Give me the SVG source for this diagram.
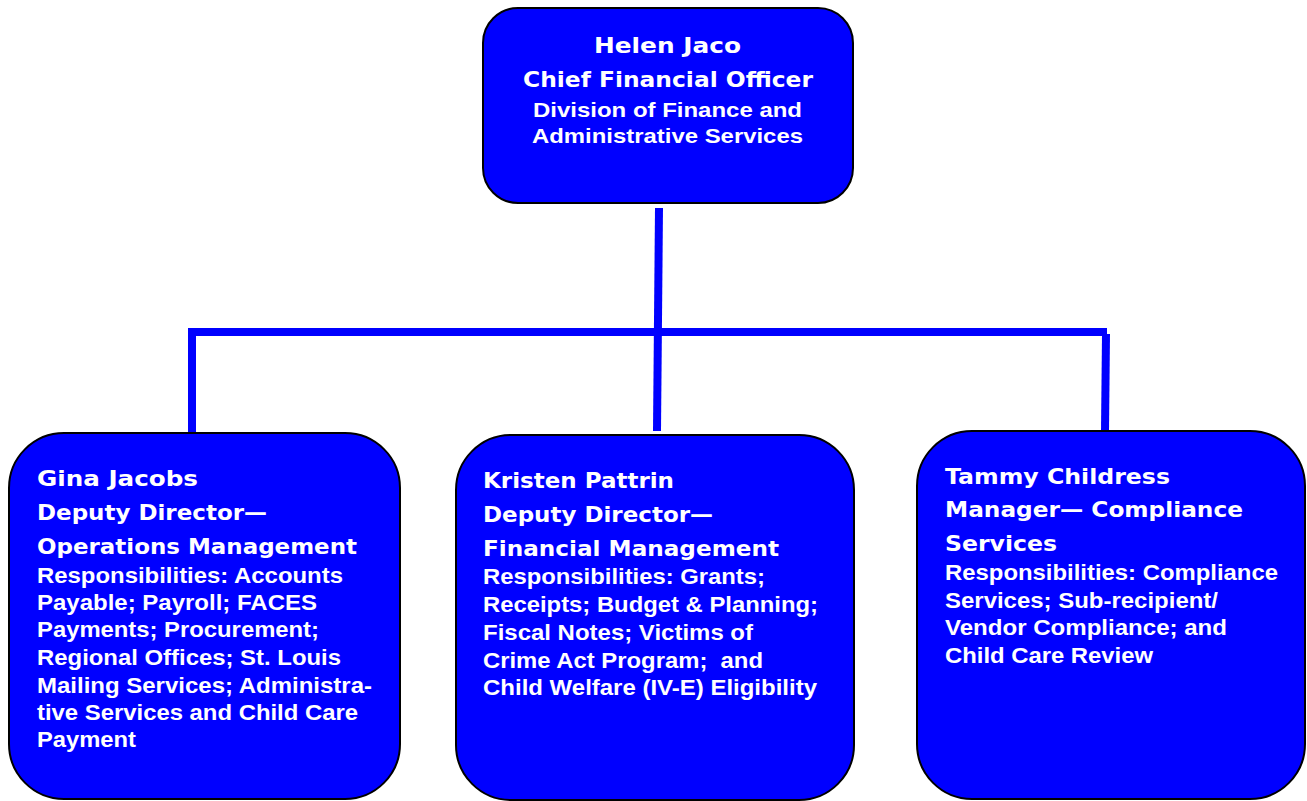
<svg xmlns="http://www.w3.org/2000/svg" width="1307" height="801" viewBox="0 0 1307 801">
<style>
.box{fill:#0000FF;stroke:#000;stroke-width:2}
.conn{fill:none;stroke:#0000FF;stroke-width:8;stroke-linejoin:miter;stroke-linecap:butt}
.h{font-family:"DejaVu Sans","Liberation Sans",Arial,sans-serif;font-weight:bold;font-size:22px;fill:#fff}
.t{font-family:"Liberation Sans",Arial,sans-serif;font-weight:bold;font-size:22px;fill:#fff}
.top{font-size:21px}
</style>
<rect x="0" y="0" width="1307" height="801" fill="#fff"/>
<g id="connectors">
<line class="conn" x1="659" y1="208" x2="657" y2="431"/>
<polyline class="conn" points="192,432 192,332 1107,332"/>
<line class="conn" x1="1106" y1="334" x2="1105" y2="431"/>
</g>
<g id="node-helen">
<rect class="box" x="483" y="8" width="370" height="195" rx="35" ry="35"/>
<text class="h top" x="594" y="53" textLength="147" lengthAdjust="spacingAndGlyphs">Helen Jaco</text>
<text class="h top" x="523" y="87" textLength="290" lengthAdjust="spacingAndGlyphs">Chief Financial Officer</text>
<text class="t top" x="533" y="117" textLength="269" lengthAdjust="spacingAndGlyphs">Division of Finance and</text>
<text class="t top" x="532" y="143" textLength="271" lengthAdjust="spacingAndGlyphs">Administrative Services</text>
</g>
<g id="node-gina">
<rect class="box" x="9" y="433" width="391" height="366" rx="55" ry="55"/>
<text class="h" x="37" y="486" textLength="161" lengthAdjust="spacingAndGlyphs">Gina Jacobs</text>
<text class="h" x="37" y="520" textLength="230" lengthAdjust="spacingAndGlyphs">Deputy Director—</text>
<text class="h" x="37" y="554" textLength="320" lengthAdjust="spacingAndGlyphs">Operations Management</text>
<text class="t" x="37" y="583" textLength="306" lengthAdjust="spacingAndGlyphs">Responsibilities: Accounts</text>
<text class="t" x="37" y="610" textLength="280" lengthAdjust="spacingAndGlyphs">Payable; Payroll; FACES</text>
<text class="t" x="37" y="637" textLength="282" lengthAdjust="spacingAndGlyphs">Payments; Procurement;</text>
<text class="t" x="37" y="665" textLength="304" lengthAdjust="spacingAndGlyphs">Regional Offices; St. Louis</text>
<text class="t" x="37" y="693" textLength="335" lengthAdjust="spacingAndGlyphs">Mailing Services; Administra-</text>
<text class="t" x="37" y="720" textLength="321" lengthAdjust="spacingAndGlyphs">tive Services and Child Care</text>
<text class="t" x="37" y="747" textLength="99" lengthAdjust="spacingAndGlyphs">Payment</text>
</g>
<g id="node-kristen">
<rect class="box" x="456" y="435" width="398" height="365" rx="55" ry="55"/>
<text class="h" x="483" y="488" textLength="191" lengthAdjust="spacingAndGlyphs">Kristen Pattrin</text>
<text class="h" x="483" y="522" textLength="230" lengthAdjust="spacingAndGlyphs">Deputy Director—</text>
<text class="h" x="483" y="556" textLength="296" lengthAdjust="spacingAndGlyphs">Financial Management</text>
<text class="t" x="483" y="584" textLength="282" lengthAdjust="spacingAndGlyphs">Responsibilities: Grants;</text>
<text class="t" x="483" y="612" textLength="335" lengthAdjust="spacingAndGlyphs">Receipts; Budget &amp; Planning;</text>
<text class="t" x="483" y="640" textLength="270" lengthAdjust="spacingAndGlyphs">Fiscal Notes; Victims of</text>
<text class="t" x="483" y="668" textLength="280" lengthAdjust="spacingAndGlyphs" xml:space="preserve">Crime Act Program;  and</text>
<text class="t" x="483" y="695" textLength="334" lengthAdjust="spacingAndGlyphs">Child Welfare (IV-E) Eligibility</text>
</g>
<g id="node-tammy">
<rect class="box" x="917" y="431" width="388" height="368" rx="55" ry="55"/>
<text class="h" x="945" y="484" textLength="225" lengthAdjust="spacingAndGlyphs">Tammy Childress</text>
<text class="h" x="945" y="517" textLength="298" lengthAdjust="spacingAndGlyphs">Manager— Compliance</text>
<text class="h" x="945" y="551" textLength="112" lengthAdjust="spacingAndGlyphs">Services</text>
<text class="t" x="945" y="580" textLength="333" lengthAdjust="spacingAndGlyphs">Responsibilities: Compliance</text>
<text class="t" x="945" y="608" textLength="273" lengthAdjust="spacingAndGlyphs">Services; Sub-recipient/</text>
<text class="t" x="945" y="635" textLength="282" lengthAdjust="spacingAndGlyphs">Vendor Compliance; and</text>
<text class="t" x="945" y="663" textLength="208" lengthAdjust="spacingAndGlyphs">Child Care Review</text>
</g>
</svg>
